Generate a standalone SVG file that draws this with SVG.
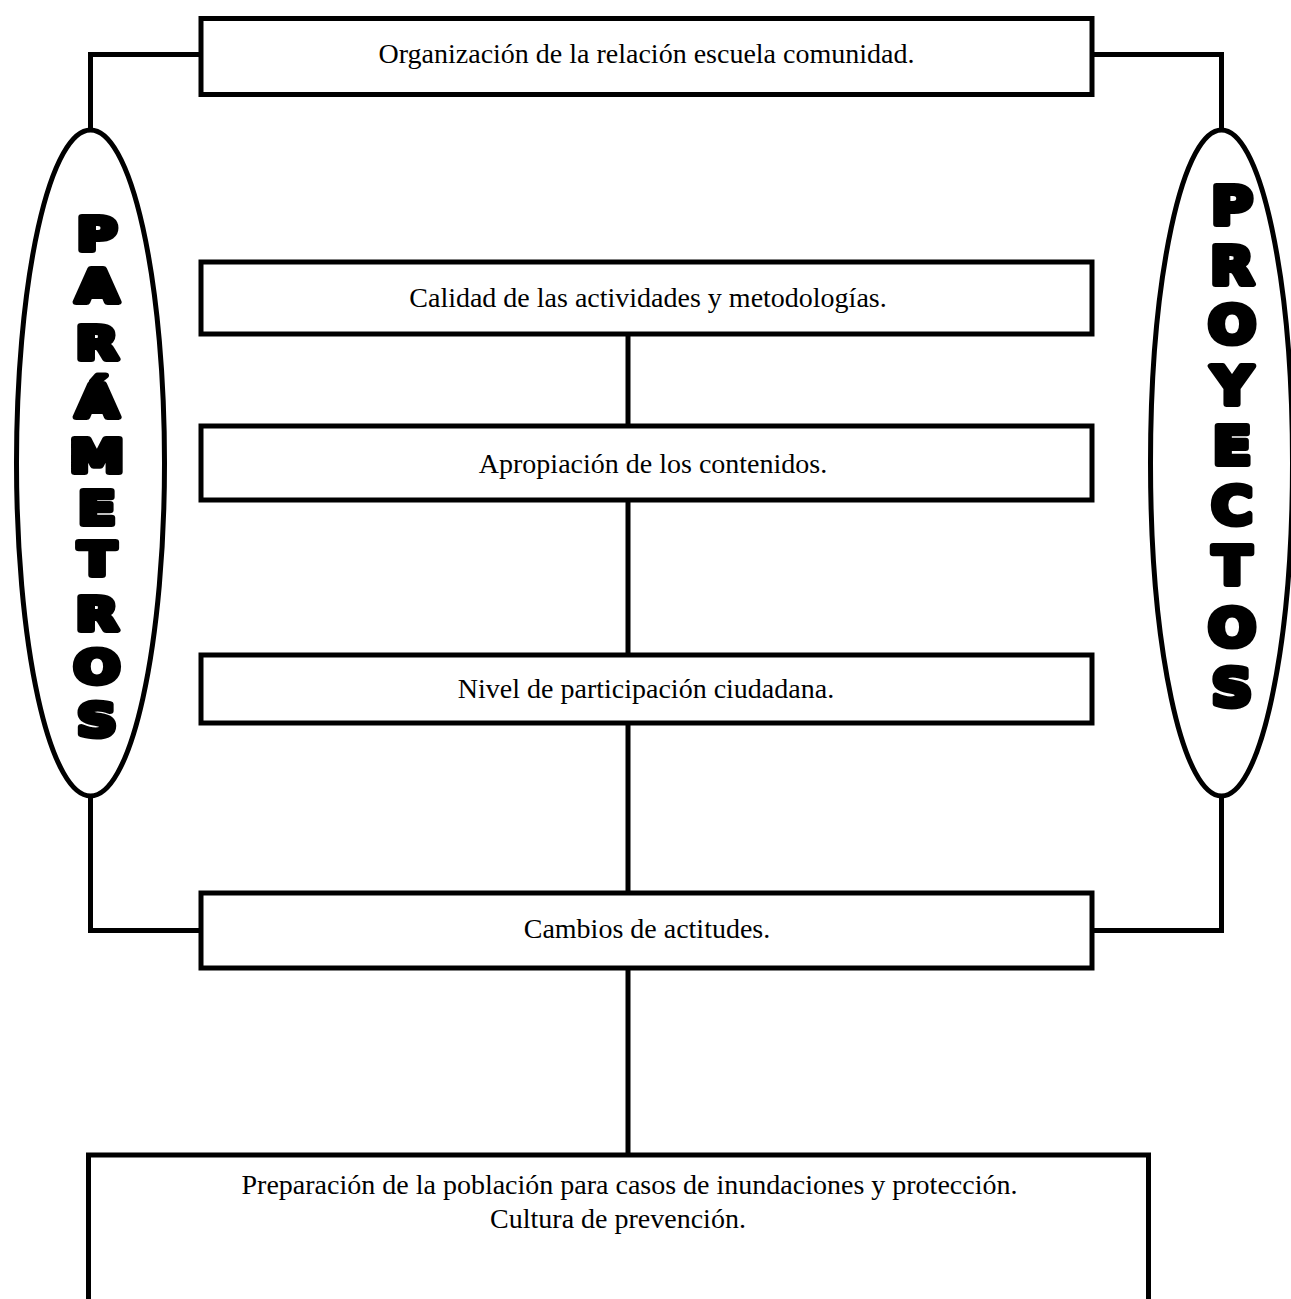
<svg xmlns="http://www.w3.org/2000/svg" width="1291" height="1299" viewBox="0 0 1291 1299">
<style>
.box{fill:#fff;stroke:#000;stroke-width:5}
.conn{fill:none;stroke:#000;stroke-width:5}
.ell{fill:#fff;stroke:#000;stroke-width:5}
.lbl{font-family:"Liberation Serif","Times New Roman",serif;font-size:28px;fill:#000;text-anchor:middle}
.big{font-family:"DejaVu Sans","Liberation Sans",sans-serif;font-weight:bold;fill:#000;stroke:#000;stroke-width:6;stroke-linejoin:round;text-anchor:middle}
</style>
<rect width="1291" height="1299" fill="#fff"/>
<g id="connectors">
<path class="conn" d="M201,54.5 H90.5 V130"/>
<path class="conn" d="M90.5,796 V930.5 H201"/>
<path class="conn" d="M1092,54.5 H1221.5 V130"/>
<path class="conn" d="M1221.5,796 V930.5 H1092"/>
<path class="conn" d="M628,334 V426"/>
<path class="conn" d="M628,500 V655"/>
<path class="conn" d="M628,723 V893"/>
<path class="conn" d="M628,968 V1155"/>
</g>
<g id="node-organizacion">
<rect class="box" x="201" y="18.5" width="891" height="76"/>
<text class="lbl" x="646.5" y="63">Organización de la relación escuela comunidad.</text>
</g>
<g id="node-calidad">
<rect class="box" x="201" y="262" width="891" height="72"/>
<text class="lbl" x="648" y="307">Calidad de las actividades y metodologías.</text>
</g>
<g id="node-apropiacion">
<rect class="box" x="201" y="426" width="891" height="74"/>
<text class="lbl" x="653" y="473">Apropiación de los contenidos.</text>
</g>
<g id="node-nivel">
<rect class="box" x="201" y="655" width="891" height="68"/>
<text class="lbl" x="646" y="698">Nivel de participación ciudadana.</text>
</g>
<g id="node-cambios">
<rect class="box" x="201" y="893" width="891" height="75"/>
<text class="lbl" x="647" y="938">Cambios de actitudes.</text>
</g>
<g id="node-preparacion">
<rect class="box" x="88.5" y="1155" width="1060" height="200"/>
<text class="lbl" x="629.5" y="1194">Preparación de la población para casos de inundaciones y protección.</text>
<text class="lbl" x="618" y="1228">Cultura de prevención.</text>
</g>
<g id="node-parametros">
<ellipse class="ell" cx="90.5" cy="463" rx="74" ry="333"/>
<text class="big" font-size="44" transform="translate(97 0) scale(1.24 1)"><tspan x="0" y="250">P</tspan><tspan x="0" y="302">A</tspan><tspan x="0" y="359">R</tspan><tspan x="0" y="417">Á</tspan><tspan x="0" y="472">M</tspan><tspan x="0" y="524">E</tspan><tspan x="0" y="575">T</tspan><tspan x="0" y="630">R</tspan><tspan x="0" y="683">O</tspan><tspan x="0" y="736">S</tspan></text>
</g>
<g id="node-proyectos">
<ellipse class="ell" cx="1221.5" cy="463" rx="71" ry="333"/>
<text class="big" font-size="52" transform="translate(1232 0) scale(1.09 1)"><tspan x="0" y="224">P</tspan><tspan x="0" y="284">R</tspan><tspan x="0" y="343">O</tspan><tspan x="0" y="404">Y</tspan><tspan x="0" y="464">E</tspan><tspan x="0" y="524">C</tspan><tspan x="0" y="584">T</tspan><tspan x="0" y="646">O</tspan><tspan x="0" y="706">S</tspan></text>
</g>
</svg>
